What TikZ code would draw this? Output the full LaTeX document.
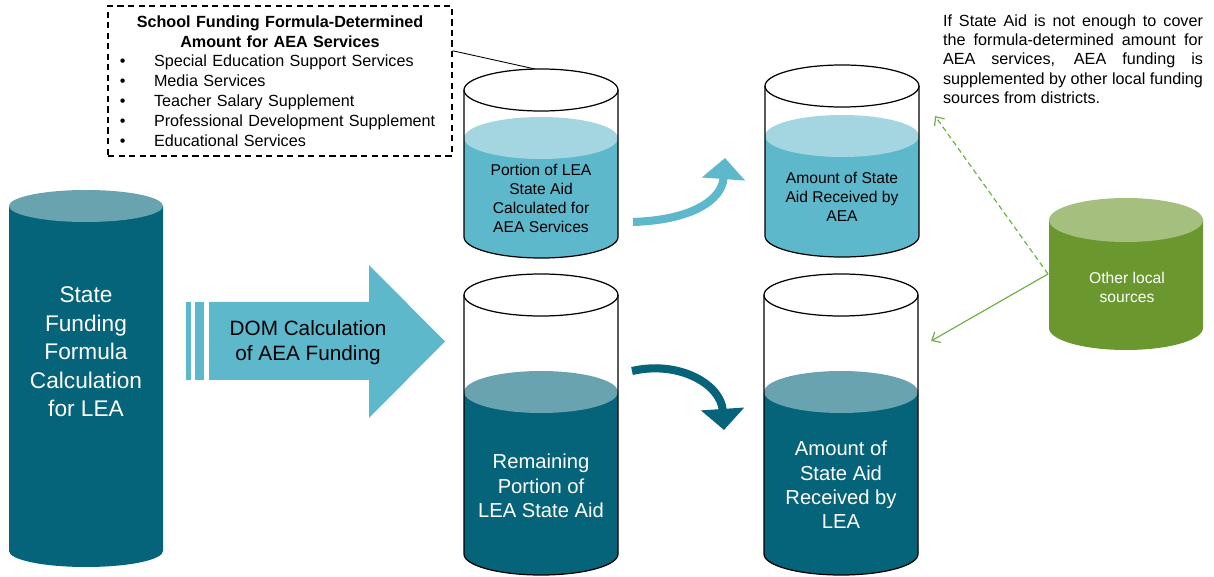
\documentclass[tikz,border=0pt]{standalone}
\usepackage{fontspec}
\setmainfont{Liberation Sans}
\usetikzlibrary{arrows.meta, calc}

\definecolor{deepteal}{HTML}{05637A}
\definecolor{deeptop}{HTML}{68A3AF}
\definecolor{skyblue}{HTML}{5EB8CC}
\definecolor{skytop}{HTML}{A4D6E2}
\definecolor{mossgreen}{HTML}{6A982E}
\definecolor{mosstop}{HTML}{A5BF7E}
\definecolor{leafgreen}{HTML}{74B04C}

\tikzstyle{glass} = [draw=black, line width=0.7pt]
\tikzstyle{leatext} = [text=white, align=center, font=\fontsize{12.9}{16.2}\selectfont]
\tikzstyle{domtext} = [text=black, align=center, font=\fontsize{11.8}{14.2}\selectfont]
\tikzstyle{cantext} = [align=center, font=\fontsize{8.9}{10.8}\selectfont]
\tikzstyle{bigcantext} = [text=white, align=center, font=\fontsize{11.5}{13.8}\selectfont]
\tikzstyle{notetext} = [text width=5.2cm, align=justify, inner sep=0pt, font=\fontsize{9.2}{11}\selectfont]
\tikzstyle{listbox} = [draw=black, dash pattern=on 3.5pt off 2.5pt, line width=0.7pt, minimum width=6.88cm, minimum height=3cm, text width=6.48cm, inner xsep=0.2cm, align=left, font=\fontsize{9.2}{11.3}\selectfont]
\tikzstyle{curvy} = [line width=4.6pt, -{Triangle[length=12pt, width=24pt]}]
\tikzstyle{greenarrow} = [leafgreen, line width=0.7pt, -{Straight Barb[length=4pt, width=7pt]}]

\newcommand{\blt}{\makebox[0.72cm][l]{\hspace{1pt}\textbullet}}
% cx, top, bottom, liquid level, liquid colour, liquid top colour
\newcommand{\glasscan}[6]{%
  \fill[#5] (#1-77,#4) -- (#1-77,#3) arc[start angle=180, end angle=0, x radius=77, y radius=21] -- (#1+77,#4) -- cycle;
  \fill[#6] (#1,#4) ellipse [x radius=77, y radius=21];
  \draw[glass] (#1,#2) ellipse [x radius=77, y radius=21];
  \draw[glass] (#1-77,#2) -- (#1-77,#3) arc[start angle=180, end angle=0, x radius=77, y radius=21] -- (#1+77,#2);
}

\begin{document}
\begin{tikzpicture}[x=0.02cm, y=-0.02cm]
\useasboundingbox (0,0) rectangle (1214,577);

% state formula cylinder
\fill[deepteal] (9,206) -- (9,551) arc[start angle=180, end angle=0, x radius=77, y radius=16] -- (163,206) -- cycle;
\fill[deeptop] (86,206) ellipse [x radius=77, y radius=16];
\node (lea) [leatext] at (86,352) {State\\Funding\\Formula\\Calculation\\for LEA};

% DOM arrow
\fill[skyblue] (186,302) rectangle (191,380);
\fill[skyblue] (195,302) rectangle (204,380);
\fill[skyblue] (209,302) -- (369,302) -- (369,265) -- (445,341.5) -- (369,418) -- (369,380) -- (209,380) -- cycle;
\node (dom) [domtext] at (308,343) {DOM Calculation\\of AEA Funding};

% cans
\glasscan{541}{90}{237}{138}{skyblue}{skytop}
\glasscan{541}{295}{554}{392}{deepteal}{deeptop}
\glasscan{842}{86}{236}{136}{skyblue}{skytop}
\glasscan{841}{295}{554}{392}{deepteal}{deeptop}

\node (portion) [cantext] at (541,198) {Portion of LEA\\State Aid\\Calculated for\\AEA Services};
\node (remain) [bigcantext] at (541,486) {Remaining\\Portion of\\LEA State Aid};
\node (aearec) [cantext] at (842,197) {Amount of State\\Aid Received by\\AEA};
\node (learec) [bigcantext] at (841,485) {Amount of\\State Aid\\Received by\\LEA};

% other local sources
\fill[mossgreen] (1049,220) -- (1049,328) arc[start angle=180, end angle=0, x radius=77, y radius=22] -- (1203,220) -- cycle;
\fill[mosstop] (1126,220) ellipse [x radius=77, y radius=22];
\node (other) [cantext, text=white] at (1127,287) {Other local\\sources};

% formula box and note
\node (fbox) [listbox] at (280,81) {{\centering\bfseries School Funding Formula-Determined\\Amount for AEA Services\par}
\blt Special Education Support Services\\
\blt Media Services\\
\blt Teacher Salary Supplement\\
\blt Professional Development Supplement\\
\blt Educational Services};
\node (note) [notetext] at (1073,59) {If State Aid is not enough to cover\linebreak the formula-determined amount for\linebreak AEA services, AEA funding is\linebreak supplemented by other local funding\linebreak sources from districts.};

% connectors
\coordinate (canA-top) at (535,69);
\coordinate (up-from) at (633,222);
\coordinate (up-to) at (725,158);
\coordinate (down-from) at (632,371);
\coordinate (down-to) at (724,430);
\coordinate (oth-w) at (1048,274);
\coordinate (note-tip) at (935,116);
\coordinate (can-tip) at (931,341);

\draw [black, line width=0.5pt] ($(fbox.north east)!0.3!(fbox.south east)$) -- (canA-top);
\draw [skyblue, curvy] (up-from) .. controls (692,220) and (722,200) .. (up-to);
\draw [deepteal, curvy] (down-from) .. controls (680,360) and (721,385) .. (down-to);
\draw [greenarrow, dash pattern=on 3pt off 2pt] (oth-w) -- (note-tip);
\draw [greenarrow] (oth-w) -- (can-tip);
\end{tikzpicture}
\end{document}
